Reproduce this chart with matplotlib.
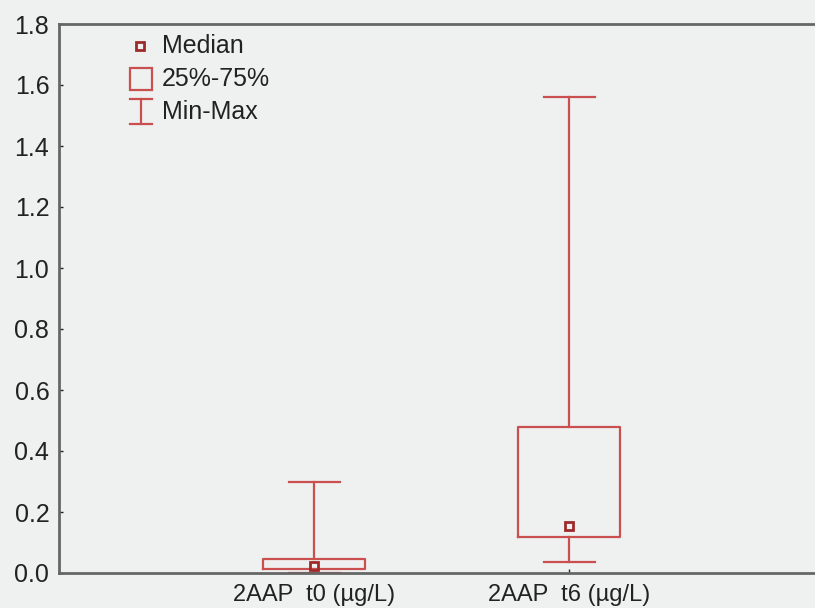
import matplotlib
matplotlib.use('Agg')
import matplotlib.pyplot as plt

# box statistics
labels = ['2AAP  t0 (\u00b5g/L)', '2AAP  t6 (\u00b5g/L)']
mins = [0.0, 0.036]
q1 = [0.013, 0.118]
medians = [0.023, 0.154]
q3 = [0.046, 0.479]
maxs = [0.30, 1.56]

red = '#c9504e'
dark_red = '#9e2a2a'
bg = '#eff1f0'

plt.rcParams['font.family'] = ['Liberation Sans', 'DejaVu Sans']

fig = plt.figure(figsize=(8.15, 6.08), dpi=100, facecolor=bg)
ax = fig.add_axes([59 / 815, 1 - 573 / 608, 1 - 59 / 815, (573 - 24) / 608])
ax.set_facecolor(bg)

stats = []
for i in range(len(labels)):
    stats.append({'label': labels[i], 'whislo': mins[i], 'q1': q1[i], 'med': medians[i],
                  'q3': q3[i], 'whishi': maxs[i]})

pos = [1, 2]
ax.bxp(stats, positions=pos, widths=0.4, showfliers=False, capwidths=0.2,
       boxprops=dict(color=red, lw=1.6),
       whiskerprops=dict(color=red, lw=1.6),
       capprops=dict(color=red, lw=1.6),
       medianprops=dict(visible=False))
ax.plot(pos, medians, 's', ms=6, mfc='none', mec=dark_red, mew=2, ls='none', zorder=5)

ax.set_xlim(0, 756 / 255)
ax.set_ylim(0, 1.8)
ax.set_yticks([0, 0.2, 0.4, 0.6, 0.8, 1.0, 1.2, 1.4, 1.6, 1.8])
ax.set_yticklabels(['0.0', '0.2', '0.4', '0.6', '0.8', '1.0', '1.2', '1.4', '1.6', '1.8'])
ax.set_xticks(pos)
ax.set_xticklabels(labels)
ax.tick_params(axis='both', labelsize=18, colors='#222222', direction='in', length=3, width=1)
ax.tick_params(axis='x', pad=8, labelsize=17)
ax.tick_params(axis='y', pad=7)
for s in ['left', 'bottom', 'top']:
    ax.spines[s].set_color('#666666')
    ax.spines[s].set_linewidth(2)
ax.spines['right'].set_visible(False)

# legend drawn by hand
tr = ax.transAxes
def fx(px):
    return (px - 59) / 756
def fy(py):
    return (573 - py) / 549
ax.plot([fx(140)], [fy(46)], 's', ms=6, mfc='none', mec=dark_red, mew=2, transform=tr, clip_on=False)
ax.plot([fx(141)], [fy(79)], 's', ms=16, mfc='none', mec=red, mew=1.6, transform=tr, clip_on=False)
ax.plot([fx(141), fx(141)], [fy(99), fy(124)], color=red, lw=1.6, transform=tr)
ax.plot([fx(130), fx(152)], [fy(99), fy(99)], color=red, lw=1.6, transform=tr)
ax.plot([fx(130), fx(152)], [fy(124), fy(124)], color=red, lw=1.6, transform=tr)
for txt, py in [('Median', 46), ('25%-75%', 79), ('Min-Max', 112)]:
    ax.text(fx(162), fy(py), txt, transform=tr, fontsize=18, color='#222222', va='center', ha='left')

fig.savefig('out.png', dpi=100, facecolor=bg)
